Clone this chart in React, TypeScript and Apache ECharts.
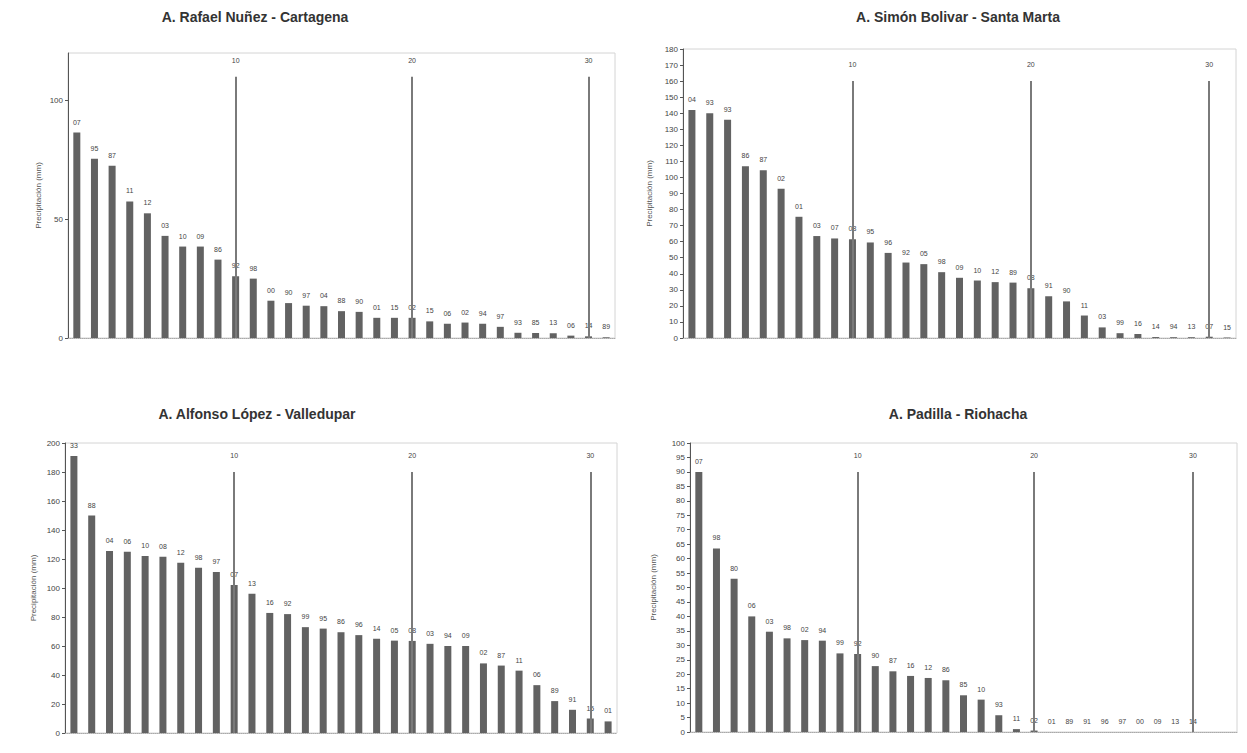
import React, { useEffect, useRef } from "react";
import * as echarts from "echarts";

// ---------- Data ----------
const slotCount = 31;
const yAxisName = "Precipitación (mm)";

const cartagenaTitle = "A. Rafael Nuñez - Cartagena";
const cartagenaYears = ["07","95","87","11","12","03","10","09","86","92","98","00","90","97","04","88","90","01","15","02","15","06","02","94","97","93","85","13","06","14","89"];
const cartagenaValues = [86.5,75.5,72.5,57.5,52.5,43,38.5,38.5,33,26,25,15.7,14.7,13.6,13.4,11.3,11,8.5,8.5,8.5,7,6,6.5,6,4.7,2.2,2.1,2,1,0.7,0.3];
const cartagenaMarkPos = [10, 20, 30];
const cartagenaMarkLabels = ["10", "20", "30"];
const cartagenaMarkTop = 110;

const santaMartaTitle = "A. Simón Bolivar - Santa Marta";
const santaMartaYears = ["04","93","93","86","87","02","01","03","07","08","95","96","92","05","98","09","10","12","89","08","91","90","11","03","99","16","14","94","13","07","15"];
const santaMartaValues = [142,140,136,107,104.5,93,75.5,63.5,62,61.5,59.5,53,47,46,41,37.5,35.8,34.8,34.5,31,26,22.8,14,6.6,3,2.5,0.6,0.5,0.5,0.8,0.3];
const santaMartaMarkPos = [10, 20, 30];
const santaMartaMarkLabels = ["10", "20", "30"];
const santaMartaMarkTop = 160;

const valleduparTitle = "A. Alfonso López - Valledupar";
const valleduparYears = ["33","88","04","06","10","08","12","98","97","07","13","16","92","99","95","86","96","14","05","08","03","94","09","02","87","11","06","89","91","15","01"];
const valleduparValues = [191,150,125.5,125,122,121.5,117.5,114,111,102,96,82.8,82,73,72,69.5,67.5,65,63.7,63.5,61.5,60,60,48,46.5,43,33,22,16,10,8];
const valleduparMarkPos = [10, 20, 30];
const valleduparMarkLabels = ["10", "20", "30"];
const valleduparMarkTop = 180;

const riohachaTitle = "A. Padilla - Riohacha";
const riohachaYears = ["07","98","80","06","03","98","02","94","99","92","90","87","16","12","86","85","10","93","11","02","01","89","91","96","97","00","09","13","14"];
const riohachaValues = [90,63.5,53,40,34.7,32.4,31.8,31.6,27.2,27,22.8,21,19.4,18.7,17.9,12.7,11.2,5.8,1,0.5,0,0,0,0,0,0,0,0,0];
const riohachaMarkPos = [10, 20, 29];
const riohachaMarkLabels = ["10", "20", "30"];
const riohachaMarkTop = 90;

// ---------- Layout / style ----------
const FONT = "'Liberation Sans', Arial, sans-serif";
const categories = Array.from({ length: slotCount }, (_, i) => String(i + 1));

const panels = [
  { title: cartagenaTitle, years: cartagenaYears, values: cartagenaValues, markPos: cartagenaMarkPos, markLabels: cartagenaMarkLabels, markTop: cartagenaMarkTop,
    grid: { left: 68, top: 53, width: 547, height: 285 }, yMax: 120, yInterval: 50, nameGap: 26, titleX: 250, titleY: 5 },
  { title: santaMartaTitle, years: santaMartaYears, values: santaMartaValues, markPos: santaMartaMarkPos, markLabels: santaMartaMarkLabels, markTop: santaMartaMarkTop,
    grid: { left: 683, top: 49, width: 553, height: 289 }, yMax: 180, yInterval: 10, nameGap: 30, titleX: 953, titleY: 5 },
  { title: valleduparTitle, years: valleduparYears, values: valleduparValues, markPos: valleduparMarkPos, markLabels: valleduparMarkLabels, markTop: valleduparMarkTop,
    grid: { left: 65, top: 443, width: 552, height: 290 }, yMax: 200, yInterval: 20, nameGap: 28, titleX: 252, titleY: 402 },
  { title: riohachaTitle, years: riohachaYears, values: riohachaValues, markPos: riohachaMarkPos, markLabels: riohachaMarkLabels, markTop: riohachaMarkTop,
    grid: { left: 690, top: 443, width: 547, height: 289 }, yMax: 100, yInterval: 5, nameGap: 33, titleX: 953, titleY: 402 },
];

function buildOption() {
  return {
    animation: false,
    backgroundColor: "#ffffff",
    title: panels.map((p) => ({
      text: p.title,
      left: p.titleX,
      top: p.titleY,
      textAlign: "center",
      textStyle: { fontSize: 14, fontWeight: "bold", color: "#333", fontFamily: FONT },
    })),
    grid: panels.map((p) => ({
      ...p.grid,
      show: true,
      borderColor: "#d4d4d4",
      borderWidth: 1,
      backgroundColor: "transparent",
    })),
    xAxis: panels.map((p, i) => ({
      gridIndex: i,
      type: "category",
      data: categories,
      axisLine: { show: true, lineStyle: { color: "#aaa", type: "dotted", width: 1 } },
      axisTick: { show: false },
      axisLabel: { show: false },
      splitLine: { show: false },
    })),
    yAxis: panels.map((p, i) => ({
      gridIndex: i,
      type: "value",
      min: 0,
      max: p.yMax,
      interval: p.yInterval,
      name: yAxisName,
      nameLocation: "middle",
      nameGap: p.nameGap,
      nameTextStyle: { fontSize: 8, color: "#555", fontFamily: FONT },
      axisLine: { show: true, lineStyle: { color: "#555", width: 1 } },
      axisTick: { show: true, length: 3, lineStyle: { color: "#555" } },
      axisLabel: { fontSize: 8, color: "#444", fontFamily: FONT, margin: 5, showMaxLabel: p.yMax % p.yInterval === 0 },
      splitLine: { show: false },
    })),
    series: panels.map((p, i) => ({
      type: "bar",
      xAxisIndex: i,
      yAxisIndex: i,
      data: categories.map((_, k) => (k < p.values.length ? p.values[k] : null)),
      barWidth: 7,
      itemStyle: { color: "#626262" },
      label: {
        show: true,
        position: "top",
        distance: 7,
        fontSize: 7,
        color: "#444",
        fontFamily: FONT,
        formatter: (prm: any) => p.years[prm.dataIndex] ?? "",
      },
      markLine: {
        silent: true,
        symbol: ["none", "none"],
        animation: false,
        lineStyle: { color: "#7a7a7a", width: 2, type: "solid" },
        label: {
          show: true,
          position: "end",
          distance: 13,
          fontSize: 7,
          color: "#444",
          fontFamily: FONT,
          formatter: (prm: any) => prm.name,
        },
        data: p.markPos.map((pos, k) => [
          { name: p.markLabels[k], coord: [String(pos), 0] },
          { coord: [String(pos), p.markTop] },
        ]),
      },
    })),
  };
}

export default function App() {
  const ref = useRef<HTMLDivElement>(null);
  useEffect(() => {
    if (!ref.current) return;
    const chart = echarts.init(ref.current, null, { renderer: "svg" });
    chart.setOption(buildOption() as any);
    return () => chart.dispose();
  }, []);
  return (
    <div
      ref={ref}
      style={{ position: "fixed", left: 0, top: 0, width: 1247, height: 753, background: "#fff" }}
    />
  );
}
